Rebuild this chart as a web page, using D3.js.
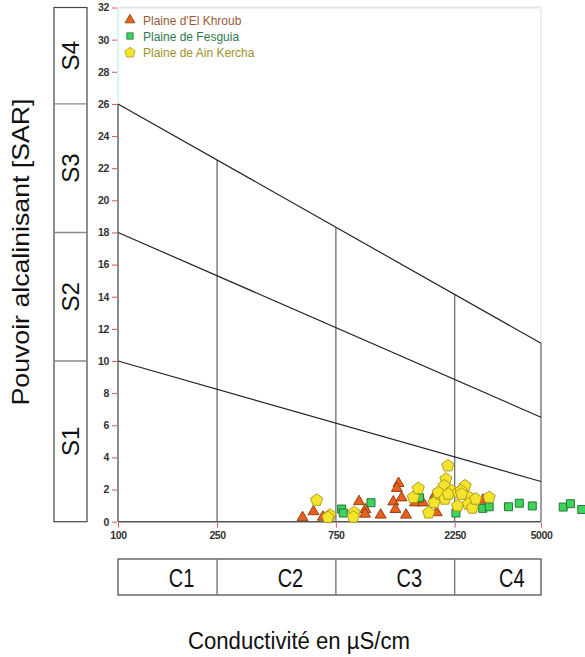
<!DOCTYPE html>
<html><head><meta charset="utf-8">
<script src="https://cdn.jsdelivr.net/npm/d3@7"></script>
<style>body{margin:0;background:#fff}svg{display:block}text{font-family:"Liberation Sans",Arial,sans-serif}</style>
</head><body><svg id="c" width="585" height="657"></svg>
<script>
// ---- data ----
const xTicks = [100, 250, 750, 2250, 5000];
const yTicks = d3.range(0, 33, 2);
const cClasses = ["C1", "C2", "C3", "C4"];
const sClasses = ["S1", "S2", "S3", "S4"];
const sBounds = [0, 10, 18, 26, 32];
// SAR class lines: SAR at EC=100 and at EC=5000
const sarLineStart = [10, 18, 26];
const sarLineEnd = [2.5, 6.5, 11.1];

const khroubEC  = [551, 610, 665, 929, 986, 982, 1135, 1276, 1301, 1339, 1318, 1377, 1435, 1560, 1679, 1906, 1876, 2924];
const khroubSAR = [0.26, 0.63, 0.29, 1.26, 0.76, 0.48, 0.42, 1.24, 0.77, 2.39, 2.08, 1.49, 0.42, 1.18, 1.18, 0.57, 1.66, 1.35];

const fesguiaEC  = [791, 803, 1038, 1625, 2277, 2917, 3097, 3702, 4090, 4613, 6142, 6565, 7285];
const fesguiaSAR = [0.79, 0.54, 1.18, 1.49, 0.54, 0.83, 0.93, 0.93, 1.15, 0.98, 0.91, 1.12, 0.76];

const kerchaEC  = [628, 710, 697, 889, 881, 1535, 1607, 1770, 1862, 2114, 2075, 2042, 1963, 1933, 2056, 2188, 2123, 2328, 2477, 2388, 2576, 2313, 2553, 2649, 2733, 3097, 2400];
const kerchaSAR = [1.39, 0.46, 0.32, 0.62, 0.34, 1.56, 2.12, 0.60, 1.24, 3.53, 2.70, 2.28, 1.77, 1.87, 1.46, 1.97, 1.77, 1.87, 2.28, 1.97, 1.56, 1.04, 1.15, 0.90, 1.46, 1.56, 1.77];

const seriesNames = ["Plaine d'El Khroub", "Plaine de Fesguia", "Plaine de Ain Kercha"];

// ---- drawing ----
const svg = d3.select("#c");
const x = d3.scaleLog().domain([100, 5000]).range([118, 541]);
const y = d3.scaleLinear().domain([0, 32]).range([521.7, 7.5]);

const lineAt = (i, ec) => {
  const t = (Math.log10(ec) - 2) / (Math.log10(5000) - 2);
  return sarLineStart[i] + t * (sarLineEnd[i] - sarLineStart[i]);
};

// plot frame (light)
svg.append("line").attr("x1", x(100)).attr("x2", x(5000)).attr("y1", y(32)).attr("y2", y(32))
  .attr("stroke", "#e6e6e6").attr("stroke-width", 2);
svg.append("line").attr("x1", x(5000)).attr("x2", x(5000)).attr("y1", y(32)).attr("y2", y(lineAt(2, 5000)))
  .attr("stroke", "#eeeeee").attr("stroke-width", 2);
svg.append("line").attr("x1", x(100)).attr("x2", x(100)).attr("y1", y(32)).attr("y2", y(26))
  .attr("stroke", "#c8f4f4").attr("stroke-width", 1.5);

// vertical dividers up to upper line
svg.selectAll(".vdiv").data([250, 750, 2250, 5000]).join("line")
  .attr("x1", d => x(d)).attr("x2", d => x(d))
  .attr("y1", y(0)).attr("y2", d => y(lineAt(2, d)))
  .attr("stroke", "#777").attr("stroke-width", 1.4);

svg.append("line").attr("x1", x(100)).attr("x2", x(100)).attr("y1", y(0)).attr("y2", y(26))
  .attr("stroke", "#666").attr("stroke-width", 1.5);
svg.append("line").attr("x1", x(100)).attr("x2", x(5000)).attr("y1", y(0)).attr("y2", y(0))
  .attr("stroke", "#555").attr("stroke-width", 1.5);

svg.selectAll(".diag").data(d3.range(3)).join("line")
  .attr("x1", x(100)).attr("y1", i => y(sarLineStart[i]))
  .attr("x2", x(5000)).attr("y2", i => y(sarLineEnd[i]))
  .attr("stroke", "#222").attr("stroke-width", 1.2);

// y axis ticks
const yAxis = d3.axisLeft(y).tickValues(yTicks).tickSize(5).tickPadding(3);
const gy = svg.append("g").attr("transform", `translate(${x(100) - 1},0)`).call(yAxis);
gy.select(".domain").remove();
gy.selectAll(".tick line").attr("stroke", "#e05050");
gy.selectAll(".tick text").attr("font-size", 10.5).attr("fill", "#333").attr("font-weight", "bold")
  .attr("font-family", "Liberation Sans, Arial").attr("letter-spacing", -0.4);

// x axis ticks
const xAxis = d3.axisBottom(x).tickValues(xTicks).tickFormat(d3.format("d")).tickSize(5).tickPadding(4);
const gx = svg.append("g").attr("transform", `translate(0,${y(0) + 1})`).call(xAxis);
gx.select(".domain").remove();
gx.selectAll(".tick line").attr("stroke", "#e05050");
gx.selectAll(".tick text").attr("font-size", 10.5).attr("fill", "#333").attr("font-weight", "bold")
  .attr("font-family", "Liberation Sans, Arial").attr("letter-spacing", -0.4);

// S boxes
const sBoxX0 = 54, sBoxX1 = 87;
svg.append("rect").attr("x", sBoxX0).attr("y", y(32)).attr("width", sBoxX1 - sBoxX0).attr("height", y(0) - y(32))
  .attr("fill", "none").attr("stroke", "#444").attr("stroke-width", 1.2);
svg.selectAll(".sdiv").data(sBounds.slice(1, 4)).join("line")
  .attr("x1", sBoxX0).attr("x2", sBoxX1).attr("y1", d => y(d)).attr("y2", d => y(d))
  .attr("stroke", "#888").attr("stroke-width", 1.4);
svg.selectAll(".slab").data(sClasses).join("text")
  .attr("transform", (d, i) => `translate(${(sBoxX0 + sBoxX1) / 2 + 8.5},${(y(sBounds[i]) + y(sBounds[i + 1])) / 2}) rotate(-90)`)
  .attr("text-anchor", "middle").attr("font-size", 24).attr("fill", "#111").text(d => d);

// C boxes
const cBoxY0 = 559, cBoxY1 = 595;
svg.append("rect").attr("x", x(100)).attr("y", cBoxY0).attr("width", x(5000) - x(100)).attr("height", cBoxY1 - cBoxY0)
  .attr("fill", "none").attr("stroke", "#444").attr("stroke-width", 1.2);
svg.selectAll(".cdiv").data([250, 750, 2250]).join("line")
  .attr("x1", d => x(d)).attr("x2", d => x(d)).attr("y1", cBoxY0).attr("y2", cBoxY1)
  .attr("stroke", "#777").attr("stroke-width", 1.4);
svg.selectAll(".clab").data(cClasses).join("text")
  .attr("x", (d, i) => (x(xTicks[i]) + x(xTicks[i + 1])) / 2 + 14)
  .attr("y", cBoxY1 - 8)
  .attr("text-anchor", "middle").attr("font-size", 25).attr("fill", "#111")
  .attr("transform-origin", (d, i) => `${(x(xTicks[i]) + x(xTicks[i + 1])) / 2 + 14}px ${cBoxY1 - 8}px`)
  .attr("transform", "scale(0.8,1)")
  .text(d => d);

// axis titles
svg.append("text").attr("x", 299).attr("y", 649).attr("text-anchor", "middle")
  .attr("font-size", 23).attr("fill", "#111").attr("textLength", 222).attr("lengthAdjust", "spacingAndGlyphs")
  .text("Conductivité en µS/cm");
svg.append("text").attr("transform", "translate(29,252) rotate(-90)").attr("text-anchor", "middle")
  .attr("font-size", 24).attr("fill", "#111").attr("textLength", 307).attr("lengthAdjust", "spacingAndGlyphs")
  .text("Pouvoir alcalinisant [SAR]");

// markers
const triPath = d3.symbol().type(d3.symbolTriangle).size(52)();
const sqPath = d3.symbol().type(d3.symbolSquare).size(64)();
const pentPath = (() => {
  const r = 6.4;
  const pts = d3.range(5).map(k => {
    const a = -Math.PI / 2 + k * 2 * Math.PI / 5;
    return [r * Math.cos(a), r * Math.sin(a) + 0.8];
  });
  return "M" + pts.map(p => p.join(",")).join("L") + "Z";
})();

const styles = [
  { path: triPath, fill: "#e8601c", stroke: "#8a3a10", text: "#9a5a3a" },
  { path: sqPath, fill: "#3ed45c", stroke: "#1d6a2c", text: "#2f7a4a" },
  { path: pentPath, fill: "#f4e42c", stroke: "#a8941a", text: "#9e922a" }
];

const plot = svg.append("g");
function drawSeries(ecs, sars, st) {
  plot.selectAll(null).data(ecs.map((e, i) => [e, sars[i]])).join("path")
    .attr("d", st.path)
    .attr("transform", d => `translate(${x(d[0])},${y(d[1])})`)
    .attr("fill", st.fill).attr("stroke", st.stroke).attr("stroke-width", 0.9);
}
drawSeries(khroubEC, khroubSAR, styles[0]);
drawSeries(fesguiaEC, fesguiaSAR, styles[1]);
drawSeries(kerchaEC, kerchaSAR, styles[2]);

// legend
const leg = svg.append("g").attr("transform", "translate(130,20)");
seriesNames.forEach((name, i) => {
  const g = leg.append("g").attr("transform", `translate(0,${i * 16})`);
  const st = styles[i];
  g.append("path").attr("d", st.path).attr("transform", i === 1 ? "scale(0.8)" : i === 2 ? "scale(0.85)" : "scale(0.9)")
    .attr("fill", st.fill).attr("stroke", st.stroke).attr("stroke-width", 0.9);
  g.append("text").attr("x", 13).attr("y", 4.5).attr("font-size", 12).attr("fill", st.text).text(name);
});
</script></body></html>
